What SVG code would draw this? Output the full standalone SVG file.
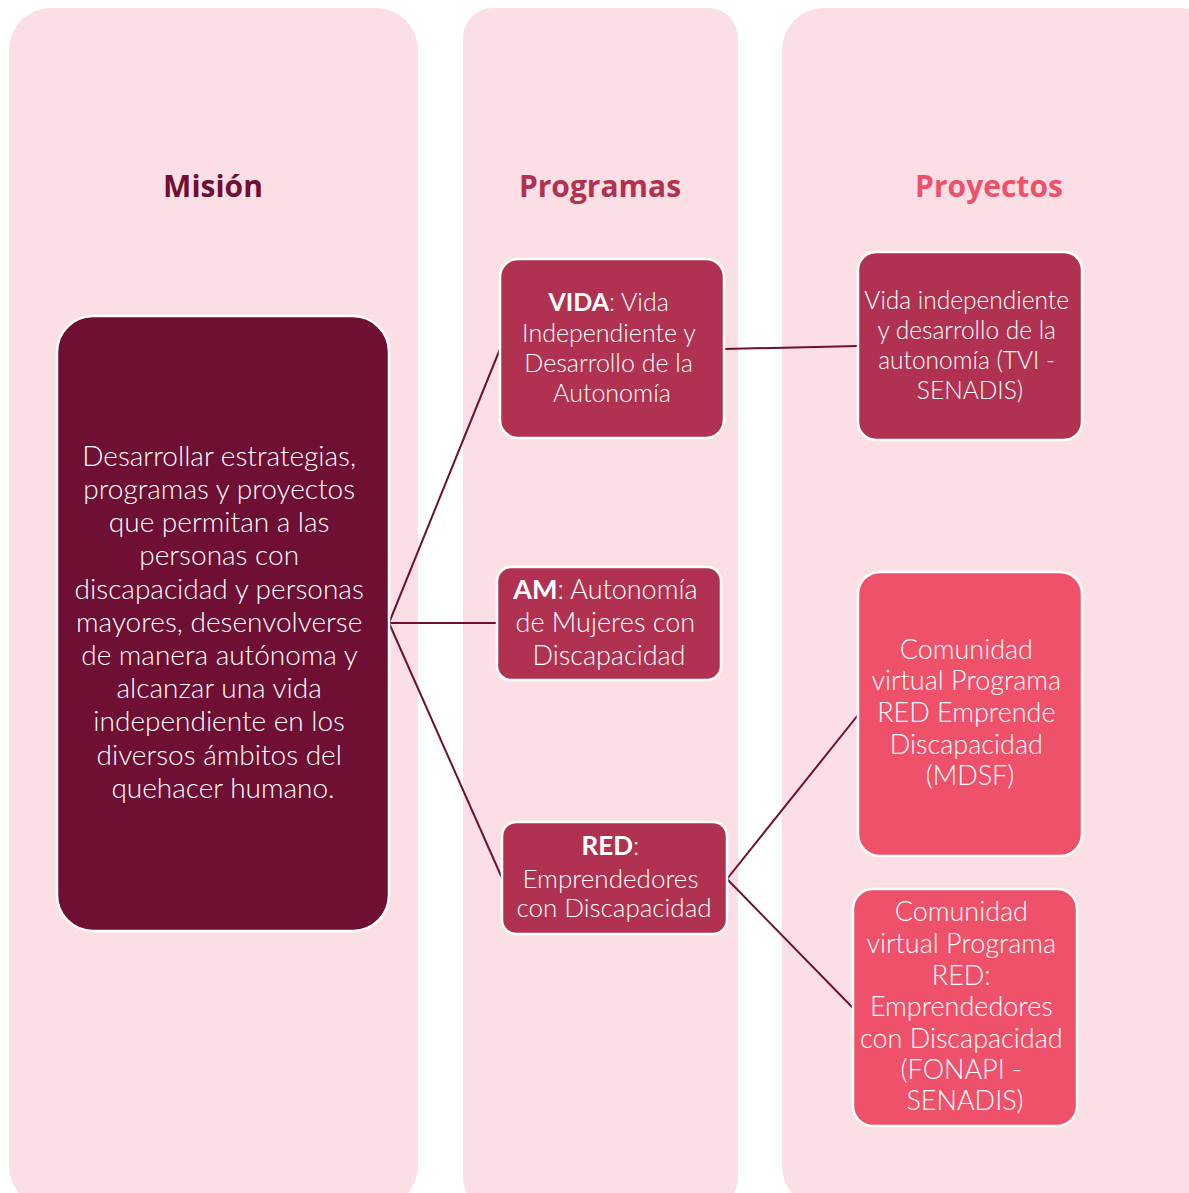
<svg xmlns="http://www.w3.org/2000/svg" width="1189" height="1193" viewBox="0 0 1189 1193">
<style>
.col{fill:#fbdfe4}
.hd{font-family:"Open Sans",Lato,sans-serif;font-weight:700;font-size:30px;text-anchor:middle}
.t{font-family:Lato,"Open Sans",sans-serif;font-weight:300;fill:#ffffff;text-anchor:middle}
.b{font-weight:700}
.box{stroke:#ffffff;stroke-width:2.5}
.dark{fill:#6e0f33}
.mid{fill:#b03250}
.light{fill:#ef506a}
.cn{stroke:#6e0f33;stroke-width:2;fill:none}
</style>
<rect width="1189" height="1193" fill="#ffffff"/>
<g id="columns">
<rect class="col" x="9" y="8" width="409" height="1200" rx="42"/>
<rect class="col" x="463" y="8" width="275" height="1200" rx="30"/>
<rect class="col" x="782" y="8" width="440" height="1200" rx="42"/>
<text class="hd" x="213" y="197" fill="#6e0f33">Misión</text>
<text class="hd" x="600" y="197" fill="#b03250">Programas</text>
<text class="hd" x="989" y="197" fill="#ef506a">Proyectos</text>
</g>
<g id="connectors">
<line class="cn" x1="389" y1="623" x2="500" y2="349"/>
<line class="cn" x1="389" y1="623" x2="497" y2="623"/>
<line class="cn" x1="389" y1="623" x2="502" y2="878"/>
<line class="cn" x1="724" y1="349" x2="858" y2="346"/>
<line class="cn" x1="727" y1="879" x2="858" y2="715"/>
<line class="cn" x1="727" y1="879" x2="853" y2="1008"/>
</g>
<g id="mision">
<rect class="box dark" x="57" y="316" width="332" height="615" rx="36"/>
<text class="t" font-size="28">
<tspan x="223" y="466">Desarrollar estrategias,</tspan>
<tspan x="223" y="499">programas y proyectos</tspan>
<tspan x="223" y="532">que permitan a las</tspan>
<tspan x="223" y="565">personas con</tspan>
<tspan x="223" y="599">discapacidad y personas</tspan>
<tspan x="223" y="632">mayores, desenvolverse</tspan>
<tspan x="223" y="665">de manera autónoma y</tspan>
<tspan x="223" y="698">alcanzar una vida</tspan>
<tspan x="223" y="731">independiente en los</tspan>
<tspan x="223" y="765">diversos ámbitos del</tspan>
<tspan x="223" y="798">quehacer humano.</tspan>
</text>
</g>
<g id="vida">
<rect class="box mid" x="500" y="259" width="224" height="179" rx="18"/>
<text class="t" font-size="25">
<tspan x="612" y="311"><tspan class="b">VIDA</tspan>: Vida</tspan>
<tspan x="612" y="342">Independiente y</tspan>
<tspan x="612" y="372">Desarrollo de la</tspan>
<tspan x="612" y="402">Autonomía</tspan>
</text>
</g>
<g id="am">
<rect class="box mid" x="497" y="567" width="224" height="113" rx="14"/>
<text class="t" font-size="27">
<tspan x="609" y="599"><tspan class="b">AM</tspan>: Autonomía</tspan>
<tspan x="609" y="632">de Mujeres con</tspan>
<tspan x="609" y="665">Discapacidad</tspan>
</text>
</g>
<g id="red">
<rect class="box mid" x="502" y="822" width="225" height="112" rx="14"/>
<text class="t" font-size="26">
<tspan x="614" y="855"><tspan class="b">RED</tspan>:</tspan>
<tspan x="614" y="888">Emprendedores</tspan>
<tspan x="614" y="917">con Discapacidad</tspan>
</text>
</g>
<g id="tvi">
<rect class="box mid" x="858" y="252" width="224" height="188" rx="18"/>
<text class="t" font-size="24.5">
<tspan x="970" y="309">Vida independiente</tspan>
<tspan x="970" y="339">y desarrollo de la</tspan>
<tspan x="970" y="369">autonomía (TVI -</tspan>
<tspan x="970" y="399">SENADIS)</tspan>
</text>
</g>
<g id="mdsf">
<rect class="box light" x="858" y="572" width="224" height="284" rx="22"/>
<text class="t" font-size="27">
<tspan x="970" y="659">Comunidad</tspan>
<tspan x="970" y="690">virtual Programa</tspan>
<tspan x="970" y="722">RED Emprende</tspan>
<tspan x="970" y="754">Discapacidad</tspan>
<tspan x="970" y="785">(MDSF)</tspan>
</text>
</g>
<g id="fonapi">
<rect class="box light" x="853" y="889" width="224" height="237" rx="20"/>
<text class="t" font-size="27">
<tspan x="965" y="921">Comunidad</tspan>
<tspan x="965" y="953">virtual Programa</tspan>
<tspan x="965" y="985">RED:</tspan>
<tspan x="965" y="1016">Emprendedores</tspan>
<tspan x="965" y="1048">con Discapacidad</tspan>
<tspan x="965" y="1079">(FONAPI -</tspan>
<tspan x="965" y="1110">SENADIS)</tspan>
</text>
</g>
</svg>
